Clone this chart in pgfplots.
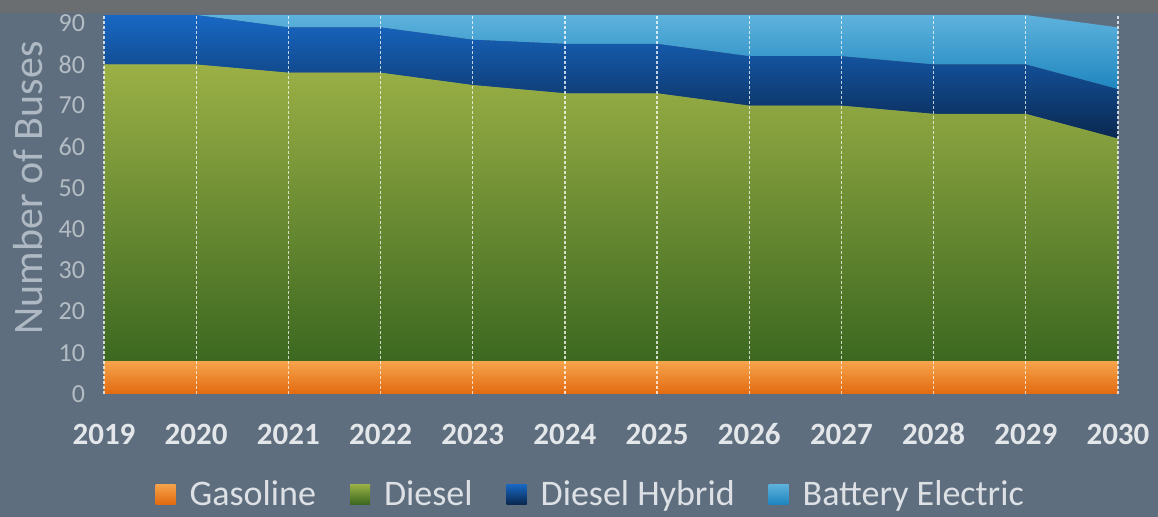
\documentclass[border=0pt]{standalone}
\usepackage{pgfplots}
\pgfplotsset{compat=1.18}
\usepackage{fontspec}
\setmainfont{Carlito}
\definecolor{bg}{HTML}{5E6E7E}
\definecolor{bgtop}{HTML}{6B6E71}
\definecolor{ytick}{HTML}{B4BCC4}
\definecolor{ylab}{HTML}{AEB9C4}
\definecolor{xtick}{HTML}{E4E7EA}
\definecolor{legtext}{HTML}{DDE1E5}
\definecolor{orT}{HTML}{F6A44C}
\definecolor{orB}{HTML}{E26A10}
\definecolor{grT}{HTML}{9BB046}
\definecolor{grB}{HTML}{3C6820}
\definecolor{dbT}{HTML}{1868C4}
\definecolor{dbB}{HTML}{0A2850}
\definecolor{lbT}{HTML}{5EB2DC}
\definecolor{lbB}{HTML}{1F86BF}
\begin{document}
\begin{tikzpicture}
\fill[bg] (0,0) rectangle (579pt,258.5pt);
\fill[bgtop] (0,252pt) rectangle (579pt,258.5pt);
\begin{axis}[
  at={(52pt,61.5pt)}, anchor=south west,
  scale only axis, width=507pt, height=189.5pt,
  xmin=2019, xmax=2030, ymin=0, ymax=92,
  enlarge x limits=false,
  stack plots=y,
  axis on top,
  axis line style={draw=none},
  tick style={draw=none},
  xtick={2019,2020,...,2030},
  ytick={0,10,...,90},
  xmajorgrids,
  major grid style={white, dash pattern=on 1.5pt off 1pt, line width=0.6pt, opacity=0.75},
  /pgf/number format/1000 sep={},
  /pgf/number format/assume math mode=true,
  xticklabel style={font=\bfseries\fontsize{15.5}{15.5}\selectfont, text=xtick, anchor=base, yshift=-25.5pt},
  yticklabel style={font=\fontsize{13}{13}\selectfont, text=ytick, xshift=-6pt},
  ylabel={Number of Buses},
  every axis y label/.style={at={(axis description cs:-0.075,0.544)}, rotate=90, anchor=center, font=\fontsize{21}{21}\selectfont, text=ylab},
  legend columns=4,
  legend style={draw=none, fill=none, at={(0.481,-0.264)}, anchor=center,
    font=\fontsize{18}{18}\selectfont, text=legtext,
    /tikz/every odd column/.append style={column sep=5pt},
    /tikz/every even column/.append style={column sep=15pt}},
]
\addplot[draw=none, top color=orT, bottom color=orB,
  legend image code/.code={\shade[top color=orT, bottom color=orB] (0pt,-5pt) rectangle (10pt,5pt);}]
  coordinates {(2019,8) (2020,8) (2021,8) (2022,8) (2023,8) (2024,8) (2025,8) (2026,8) (2027,8) (2028,8) (2029,8) (2030,8)} \closedcycle;
\addlegendentry{Gasoline}
\addplot[draw=none, top color=grT, bottom color=grB,
  legend image code/.code={\shade[top color=grT, bottom color=grB] (0pt,-5pt) rectangle (10pt,5pt);}]
  coordinates {(2019,72) (2020,72) (2021,70) (2022,70) (2023,67) (2024,65) (2025,65) (2026,62) (2027,62) (2028,60) (2029,60) (2030,54)} \closedcycle;
\addlegendentry{Diesel}
\addplot[draw=none, top color=dbT, bottom color=dbB,
  legend image code/.code={\shade[top color=dbT, bottom color=dbB] (0pt,-5pt) rectangle (10pt,5pt);}]
  coordinates {(2019,12) (2020,12) (2021,11) (2022,11) (2023,11) (2024,12) (2025,12) (2026,12) (2027,12) (2028,12) (2029,12) (2030,12)} \closedcycle;
\addlegendentry{Diesel Hybrid}
\addplot[draw=none, top color=lbT, bottom color=lbB,
  legend image code/.code={\shade[top color=lbT, bottom color=lbB] (0pt,-5pt) rectangle (10pt,5pt);}]
  coordinates {(2019,0) (2020,0) (2021,3) (2022,3) (2023,6) (2024,7) (2025,7) (2026,10) (2027,10) (2028,12) (2029,12) (2030,15)} \closedcycle;
\addlegendentry{Battery Electric}
\end{axis}
\pgfresetboundingbox
\useasboundingbox (0,0) rectangle (579pt,258.5pt);
\end{tikzpicture}
\end{document}
